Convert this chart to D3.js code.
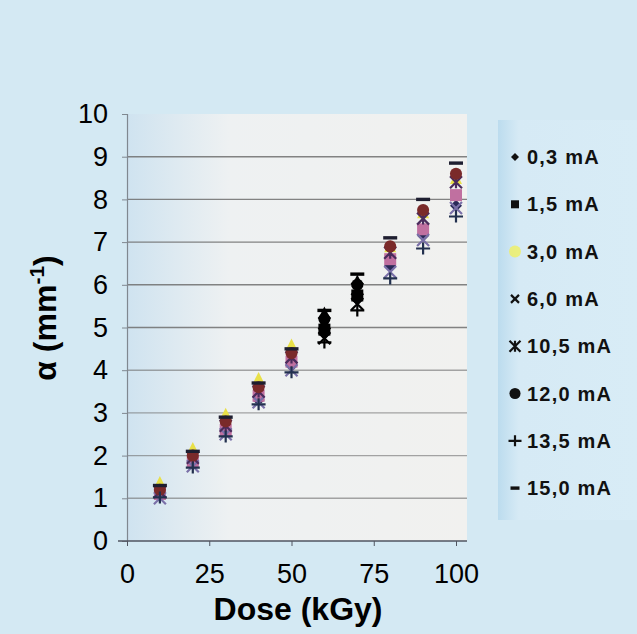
<!DOCTYPE html>
<html><head><meta charset="utf-8">
<script src="https://cdn.jsdelivr.net/npm/d3@7"></script>
<style>html,body{margin:0;padding:0;background:#d4e9f3;}svg{display:block;}</style>
</head><body>
<script>
// ---- data ----
const doses = [10, 20, 30, 40, 50, 60, 70, 80, 90, 100];
const seriesNames = ["0,3 mA", "1,5 mA", "3,0 mA", "6,0 mA", "10,5 mA", "12,0 mA", "13,5 mA", "15,0 mA"];
const s03  = [1.05, 1.80, 2.55, 3.30, 4.10, 4.85, 5.65, 6.45, 7.15, 7.85];
const s15  = [1.10, 1.85, 2.60, 3.40, 4.20, 4.95, 5.75, 6.60, 7.30, 8.10];
const s30  = [1.38, 2.18, 2.98, 3.82, 4.60, 5.35, 6.10, 6.90, 7.70, 8.50];
const s60  = [1.00, 1.75, 2.50, 3.25, 4.00, 4.75, 5.55, 6.30, 7.05, 7.80];
const s105 = [1.15, 1.95, 2.70, 3.50, 4.30, 5.10, 5.90, 6.75, 7.55, 8.40];
const s120 = [1.20, 2.00, 2.80, 3.60, 4.40, 5.20, 6.00, 6.90, 7.75, 8.60];
const s135 = [1.02, 1.72, 2.45, 3.20, 3.95, 4.65, 5.40, 6.15, 6.85, 7.60];
const s150 = [1.30, 2.10, 2.90, 3.70, 4.50, 5.40, 6.25, 7.10, 8.00, 8.85];
const seriesValues = [s03, s15, s30, s60, s105, s120, s135, s150];
const xTicks = [0, 25, 50, 75, 100];
const yTicks = [0, 1, 2, 3, 4, 5, 6, 7, 8, 9, 10];

// ---- style ----
const colors = ["#2a2a58", "#c070a0", "#e8e048", "#7a70a8", "#4a2c5c", "#7a2a2a", "#22304e", "#1e1e30"];
const legendColors = ["#111", "#111", "#f0f060", "#111", "#111", "#111", "#111", "#111"];
const shapes = ["diamond", "square", "triangle", "x", "star", "circle", "plus", "dash"];
const darkDoses = [60, 70];
const FONT = "Arial, 'Liberation Sans', sans-serif";

const W = 637, H = 634;
const svg = d3.select("body").append("svg").attr("width", W).attr("height", H);
const defs = svg.append("defs");

const x = d3.scaleLinear().domain([0, 100]).range([127, 456]);
const y = d3.scaleLinear().domain([0, 10]).range([541, 114]);

// plot area gradient
const g1 = defs.append("linearGradient").attr("id", "pa").attr("x1", 0).attr("x2", 1).attr("y1", 0).attr("y2", 0);
g1.append("stop").attr("offset", "0").attr("stop-color", "#cfe3f0");
g1.append("stop").attr("offset", "0.3").attr("stop-color", "#eef1f2");
g1.append("stop").attr("offset", "1").attr("stop-color", "#f1f1ef");
svg.append("rect").attr("x", 127).attr("y", 114).attr("width", 340).attr("height", 427).attr("fill", "url(#pa)");

// legend panel gradient
const g2 = defs.append("linearGradient").attr("id", "lg").attr("x1", 0).attr("x2", 1).attr("y1", 0).attr("y2", 0);
g2.append("stop").attr("offset", "0").attr("stop-color", "#bcdcee");
g2.append("stop").attr("offset", "0.15").attr("stop-color", "#d6eaf5");
g2.append("stop").attr("offset", "1").attr("stop-color", "#d8ecf6");
svg.append("rect").attr("x", 498).attr("y", 120).attr("width", 139).attr("height", 400).attr("fill", "url(#lg)");

// gridlines
svg.append("g").selectAll("line").data(yTicks.filter(d => d > 0 && d < 10)).join("line")
  .attr("x1", 127).attr("x2", 467).attr("y1", d => y(d)).attr("y2", d => y(d))
  .attr("stroke", "#6e6e6e").attr("stroke-width", 1.4).attr("stroke-opacity", d => d >= 5 ? 0.85 : 0.6);

// axes
const yAxis = d3.axisLeft(y).tickValues(yTicks).tickSize(5).tickPadding(14).tickFormat(d3.format("d"));
const ya = svg.append("g").attr("transform", "translate(127,0)").call(yAxis);
ya.select(".domain").attr("stroke", "#808890").attr("stroke-width", 1.2);
ya.selectAll(".tick line").attr("stroke", "#808890");
ya.selectAll("text").attr("font-family", FONT).attr("font-size", 27).attr("fill", "#000");

const xAxis = d3.axisBottom(x).tickValues(xTicks).tickSize(5).tickPadding(18);
const xa = svg.append("g").attr("transform", "translate(0,541)").call(xAxis);
xa.select(".domain").attr("d", "M118,0H467").attr("stroke", "#505560").attr("stroke-width", 1.6);
xa.selectAll(".tick line").attr("stroke", "#505560");
xa.selectAll("text").attr("font-family", FONT).attr("font-size", 27).attr("fill", "#000");

// titles
svg.append("text").attr("x", 298).attr("y", 620).attr("text-anchor", "middle")
  .attr("font-family", FONT).attr("font-weight", "bold").attr("font-size", 32)
  .text("Dose (kGy)");
const yt = svg.append("text").attr("transform", "translate(56,318) rotate(-90)").attr("text-anchor", "middle")
  .attr("font-family", FONT).attr("font-weight", "bold").attr("font-size", 32);
yt.append("tspan").text("α (mm");
yt.append("tspan").attr("font-size", 21).attr("dy", -12).text("-1");
yt.append("tspan").attr("dy", 12).text(")");

// marker path generator
function markerPath(shape, s) {
  const h = s / 2;
  switch (shape) {
    case "diamond": return `M0,${-h}L${h},0L0,${h}L${-h},0Z`;
    case "square": return `M${-h},${-h}H${h}V${h}H${-h}Z`;
    case "triangle": return `M0,${-h}L${h},${h}H${-h}Z`;
    case "circle": return d3.symbol(d3.symbolCircle, s * s * 0.8)();
    case "dash": return `M${-h},${-1.7}H${h}V${1.7}H${-h}Z`;
    default: return null;
  }
}
function drawMarker(g, shape, s, color) {
  const h = s / 2;
  if (shape === "x") {
    g.append("path").attr("d", `M${-h},${-h}L${h},${h}M${-h},${h}L${h},${-h}`).attr("stroke", color).attr("stroke-width", 2.2).attr("fill", "none");
  } else if (shape === "star") {
    g.append("path").attr("d", `M${-h},${-h}L${h},${h}M${-h},${h}L${h},${-h}M0,${-h}V${h}`).attr("stroke", color).attr("stroke-width", 2.2).attr("fill", "none");
  } else if (shape === "plus") {
    g.append("path").attr("d", `M${-h - 1},0H${h + 1}M0,${-h}V${h}`).attr("stroke", color).attr("stroke-width", 2.2).attr("fill", "none");
  } else {
    g.append("path").attr("d", markerPath(shape, s)).attr("fill", color);
  }
}

// points
const pts = svg.append("g");
seriesValues.forEach((vals, si) => {
  vals.forEach((v, i) => {
    const g = pts.append("g").attr("transform", `translate(${x(doses[i])},${y(v)})`);
    const c = darkDoses.includes(doses[i]) ? "#000" : colors[si];
    drawMarker(g, shapes[si], shapes[si] === "dash" ? 14 : 12, c);
  });
});

// legend
const lgY0 = 157, lgStep = 47.3;
seriesNames.forEach((name, si) => {
  const cy = lgY0 + si * lgStep;
  const g = svg.append("g").attr("transform", `translate(515,${cy})`);
  if (shapes[si] === "triangle") {
    g.append("circle").attr("r", 6).attr("fill", legendColors[si]).attr("opacity", 0.8);
  } else {
    const sz = (shapes[si] === "star" || shapes[si] === "circle" || shapes[si] === "plus") ? 11 : (shapes[si] === "dash" ? 9 : 8);
    drawMarker(g, shapes[si], sz, legendColors[si]);
  }
  svg.append("text").attr("x", 527).attr("y", cy + 7)
    .attr("font-family", FONT).attr("font-weight", "bold").attr("font-size", 20)
    .attr("letter-spacing", 1.2).attr("fill", "#111").text(name);
});
</script>
</body></html>
